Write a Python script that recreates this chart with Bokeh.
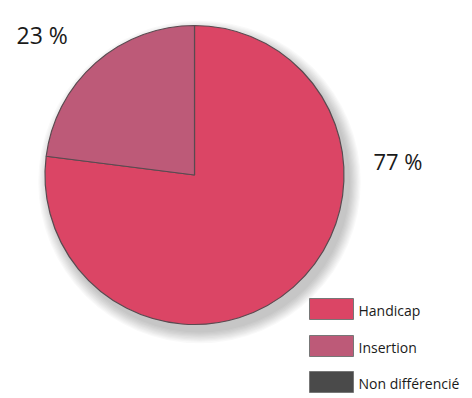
import math
from bokeh.plotting import figure
from bokeh.models import Range1d
from bokeh.core.properties import value
from bokeh.embed import file_html
from bokeh.resources import INLINE

# ---- data ----
categories = ["Handicap", "Insertion", "Non différencié"]
shares = [77, 23, 0]
colors = ["#DB4565", "#BD5A78", "#4A4A4A"]
label_texts = [f"{v} %" for v in shares]

W, H = 472, 398
PAGE_H = 398

def py(y):  # screenshot pixel y -> data y
    return PAGE_H - y

p = figure(width=W, height=H, output_backend="svg", toolbar_location=None,
           x_range=Range1d(0, W), y_range=Range1d(py(H), py(0)),
           min_border=0)
p.axis.visible = False
p.grid.visible = False
p.outline_line_color = None
p.background_fill_color = "white"

cx, cy, r = 194, py(174.5), 149.5

# soft drop shadow
for k in range(10):
    p.circle(x=[cx + 5], y=[cy - 7], radius=r + 1 + k * 1.2,
             fill_color="black", fill_alpha=0.022, line_color=None)

# wedges (start at 12 o'clock, clockwise)
total = sum(shares)
cum = 0.0
for cat, v, c in zip(categories, shares, colors):
    if v <= 0:
        continue
    a0 = math.pi / 2 - 2 * math.pi * (cum + v) / total
    a1 = math.pi / 2 - 2 * math.pi * cum / total
    p.wedge(x=[cx], y=[cy], radius=r, start_angle=[a0], end_angle=[a1],
            fill_color=c, line_color="#5a4a50", line_width=1.2)
    cum += v

# percentage labels
p.text(x=[373], y=[py(160)], text=[label_texts[0]], text_font=value("Open Sans"),
       text_font_size="22px", text_color="#1a1a1a", text_baseline="middle",
       text_align="left")
p.text(x=[16], y=[py(34)], text=[label_texts[1]], text_font=value("Open Sans"),
       text_font_size="23px", text_color="#1a1a1a", text_baseline="middle",
       text_align="left")

# legend
box_x0, box_w, box_h = 309, 44, 21
box_tops = [298, 335, 371]
for cat, c, top in zip(categories, colors, box_tops):
    p.rect(x=[box_x0 + box_w / 2], y=[py(top + box_h / 2)], width=box_w, height=box_h,
           fill_color=c, line_color="#777777", line_width=1)
    p.text(x=[box_x0 + box_w + 5], y=[py(top + box_h / 2 + 1)], text=[cat],
           text_font=value("Open Sans"), text_font_size="14px",
           text_color="#1a1a1a", text_baseline="middle", text_align="left")

open("out.html", "w").write(file_html(p, INLINE))
